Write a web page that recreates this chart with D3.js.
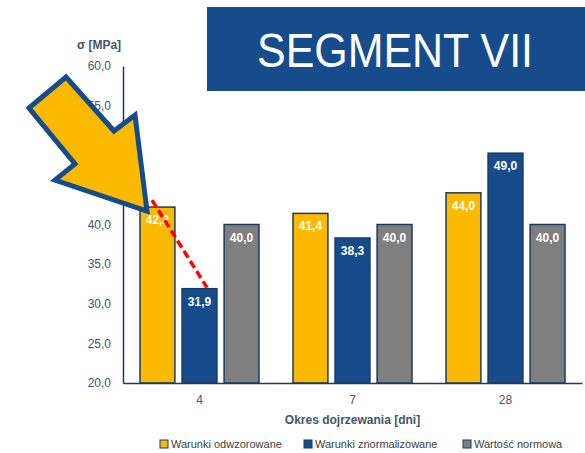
<!DOCTYPE html>
<html>
<head>
<meta charset="utf-8">
<script src="https://cdn.jsdelivr.net/npm/d3@7"></script>
<style>
  html, body { margin: 0; padding: 0; background: #fff; }
  svg { display: block; font-family: "Liberation Sans", Arial, sans-serif; }
</style>
</head>
<body>
<svg id="chart" width="585" height="453"></svg>
<script>
// Compressive strength by curing period
const categories = ["4", "7", "28"];
const seriesNames = ["Warunki odwzorowane", "Warunki znormalizowane", "Wartość normowa"];
const odwzorowane = [42.2, 41.4, 44.0];
const znormalizowane = [31.9, 38.3, 49.0];
const normowa = [40.0, 40.0, 40.0];
const yTicks = [20, 25, 30, 35, 40, 45, 50, 55, 60];
const colors = ["#FBB900", "#174C8C", "#7F7F7F"];

const series = [odwzorowane, znormalizowane, normowa];
const fmt = v => v.toFixed(1).replace(".", ",");

const svg = d3.select("#chart");
const plot = { left: 123, right: 582, top: 66, bottom: 383 };

const x = d3.scaleBand().domain(categories).range([plot.left, plot.right]).paddingInner(0).paddingOuter(0);
const xInner = d3.scaleBand().domain(d3.range(series.length))
  .range([17, x.bandwidth() - 17]).paddingInner(0.17);
const y = d3.scaleLinear().domain([20, 60]).range([plot.bottom, plot.top]);

// Y axis
const yAxis = svg.append("g").attr("transform", `translate(${plot.left},0)`)
  .call(d3.axisLeft(y).tickValues(yTicks).tickSize(0).tickPadding(12).tickFormat(fmt));
yAxis.select(".domain").attr("stroke", "#1B3A63").attr("stroke-width", 1.5);
yAxis.selectAll("text").attr("fill", "#44546A").attr("font-size", 12)
  .attr("font-family", "Liberation Sans, Arial, sans-serif");

svg.append("text").attr("x", 99).attr("y", 49).attr("text-anchor", "middle")
  .attr("font-size", 12).attr("font-weight", "bold").attr("fill", "#44546A")
  .text("σ [MPa]");

// Bars
categories.forEach((c, i) => {
  const g = svg.append("g").attr("transform", `translate(${x(c)},0)`);
  series.forEach((s, j) => {
    g.append("rect")
      .attr("x", xInner(j)).attr("width", xInner.bandwidth())
      .attr("y", y(s[i])).attr("height", y(20) - y(s[i]))
      .attr("fill", colors[j]).attr("stroke", "#1B3A63").attr("stroke-width", 1.5);
    g.append("text")
      .attr("x", xInner(j) + xInner.bandwidth() / 2).attr("y", y(s[i]) + 17)
      .attr("text-anchor", "middle").attr("font-size", 12).attr("font-weight", "bold")
      .attr("fill", "#fff").text(fmt(s[i]));
  });
});

// X axis
const xAxis = svg.append("g").attr("transform", `translate(0,${plot.bottom})`)
  .call(d3.axisBottom(x).tickSize(0).tickPadding(12));
xAxis.select(".domain").attr("stroke", "#1B3A63").attr("stroke-width", 1.5);
xAxis.selectAll("text").attr("fill", "#44546A").attr("font-size", 12)
  .attr("font-family", "Liberation Sans, Arial, sans-serif");

svg.append("text").attr("x", (plot.left + plot.right) / 2).attr("y", 424)
  .attr("text-anchor", "middle").attr("font-size", 12).attr("font-weight", "bold")
  .attr("fill", "#44546A").text("Okres dojrzewania [dni]");

// Legend
const legendX = [160, 304, 463];
seriesNames.forEach((name, j) => {
  const g = svg.append("g").attr("transform", `translate(${legendX[j]},440)`);
  g.append("rect").attr("width", 8).attr("height", 8)
    .attr("fill", colors[j]).attr("stroke", "#1B3A63").attr("stroke-width", 1);
  g.append("text").attr("x", 11).attr("y", 8).attr("font-size", 11)
    .attr("fill", "#404040").text(name);
});

// Drop between the first two bars at 4 days
const x0 = x(categories[0]);
svg.append("line")
  .attr("x1", x0 + xInner(0) + 12).attr("y1", y(odwzorowane[0]) - 7)
  .attr("x2", x0 + xInner(1) + 25).attr("y2", y(znormalizowane[0]) - 1)
  .attr("stroke", "#FF0000").attr("stroke-width", 3.5).attr("stroke-dasharray", "8,4");

// Pointer arrow
const arrow = [[29, 108], [66, 77], [114, 131], [135, 115], [147, 211], [55, 180], [75, 164]];
svg.append("polygon")
  .attr("points", arrow.map(p => p.join(",")).join(" "))
  .attr("fill", "#FBB900").attr("stroke", "#174C8C").attr("stroke-width", 5)
  .attr("stroke-linejoin", "miter");

// Title box
svg.append("rect").attr("x", 207).attr("y", 7).attr("width", 380).attr("height", 84)
  .attr("fill", "#174C8C");
svg.append("text").attr("x", 257).attr("y", 67)
  .attr("font-size", 49).attr("fill", "#fff")
  .attr("textLength", 276).attr("lengthAdjust", "spacingAndGlyphs")
  .text("SEGMENT VII");
</script>
</body>
</html>
